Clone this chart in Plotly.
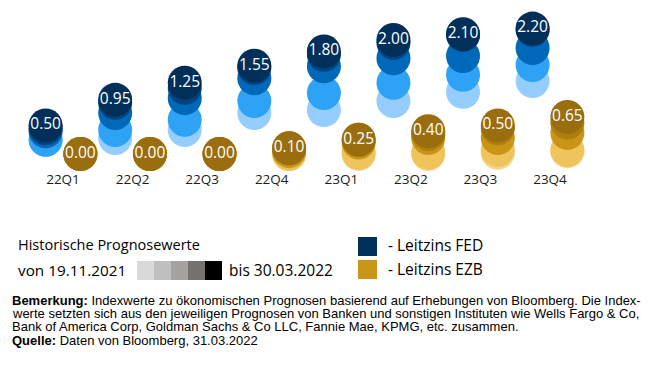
import plotly.graph_objects as go

quarters = ["22Q1", "22Q2", "22Q3", "22Q4", "23Q1", "23Q2", "23Q3", "23Q4"]

# FED forecasts per snapshot (1 = 19.11.2021 ... 5 = 30.03.2022)
fed_snap_1 = [0.25, 0.28, 0.42, 0.72, 0.77, 0.93, 1.09, 1.28]
fed_snap_2 = [0.25, 0.42, 0.60, 0.93, 1.07, 1.25, 1.39, 1.56]
fed_snap_3 = [0.40, 0.72, 0.98, 1.33, 1.54, 1.68, 1.72, 1.86]
fed_snap_4 = [0.45, 0.90, 1.16, 1.51, 1.74, 1.95, 2.09, 2.18]
fed_snap_5 = [0.50, 0.95, 1.25, 1.55, 1.80, 2.00, 2.10, 2.20]

# EZB forecasts per snapshot
ezb_snap_1 = [0.00, 0.00, 0.00, 0.00, 0.00, 0.00, 0.02, 0.05]
ezb_snap_2 = [0.00, 0.00, 0.00, 0.00, 0.02, 0.02, 0.07, 0.07]
ezb_snap_3 = [0.00, 0.00, 0.00, 0.05, 0.20, 0.28, 0.28, 0.37]
ezb_snap_4 = [0.00, 0.00, 0.00, 0.10, 0.25, 0.35, 0.45, 0.55]
ezb_snap_5 = [0.00, 0.00, 0.00, 0.10, 0.25, 0.40, 0.50, 0.65]

fed_colors = ["#96CDFF", "#2EA2F5", "#0068B8", "#00447F", "#00305A"]
ezb_colors = ["#F5D794", "#F0C45C", "#C99517", "#AE7E10", "#9A6E0E"]
grey_colors = ["#D9D9D9", "#BFBFBF", "#A6A2A2", "#767171", "#000000"]

fed_snaps = [fed_snap_1, fed_snap_2, fed_snap_3, fed_snap_4, fed_snap_5]
ezb_snaps = [ezb_snap_1, ezb_snap_2, ezb_snap_3, ezb_snap_4, ezb_snap_5]

FONT = "Open Sans, DejaVu Sans, sans-serif"
NOTE_FONT = "Liberation Sans Narrow, Arial Narrow, Liberation Sans, sans-serif"

xi = list(range(len(quarters)))
fed_x = [i - 0.25 for i in xi]
ezb_x = [i + 0.25 for i in xi]

fig = go.Figure()
for k in range(5):
    last = k == 4
    for xs, vals, col in ((fed_x, fed_snaps[k], fed_colors[k]), (ezb_x, ezb_snaps[k], ezb_colors[k])):
        fig.add_trace(go.Scatter(
            x=xs, y=vals,
            mode="markers+text" if last else "markers",
            marker=dict(size=34, color=col, line=dict(width=0), opacity=1),
            text=[f"{v:.2f}" for v in vals] if last else None,
            textposition="middle center",
            textfont=dict(family=FONT, size=15.5, color="white"),
            cliponaxis=False, showlegend=False, hoverinfo="skip",
        ))

# page body has an 8px margin; figure coordinates = reference coordinates - 8
OFF = 8.0
W = 670.0 - OFF
H = 371.0 - OFF
PH = 161.0  # plot-area height (top margin 0)


def py(p):
    return (PH - (p - OFF)) / PH


def px(p):
    return (p - OFF) / W


shapes = []
for j, c in enumerate(grey_colors):
    shapes.append(dict(type="rect", xref="paper", yref="paper",
                       x0=px(137 + 17 * j), x1=px(137 + 17 * (j + 1)),
                       y0=py(280), y1=py(261), fillcolor=c, line=dict(width=0)))
shapes.append(dict(type="rect", xref="paper", yref="paper", x0=px(358), x1=px(377),
                   y0=py(256), y1=py(237), fillcolor="#00305A", line=dict(width=0)))
shapes.append(dict(type="rect", xref="paper", yref="paper", x0=px(358), x1=px(377),
                   y0=py(279), y1=py(260), fillcolor="#C9961A", line=dict(width=0)))


def ann(text, x, y, size=14, family=FONT):
    return dict(text=text, xref="paper", yref="paper", x=px(x), y=py(y),
                xanchor="left", yanchor="middle", showarrow=False,
                font=dict(family=family, size=size, color="#000000"))


notes = [
    "<b>Bemerkung:</b> Indexwerte zu ökonomischen Prognosen basierend auf Erhebungen von Bloomberg. Die Index-",
    "werte setzten sich aus den jeweiligen Prognosen von Banken und sonstigen Instituten wie Wells Fargo &amp; Co,",
    "Bank of America Corp, Goldman Sachs &amp; Co LLC, Fannie Mae, KPMG, etc. zusammen.",
    "<b>Quelle:</b> Daten von Bloomberg, 31.03.2022",
]
note_y = [300, 313, 326, 340]

annotations = [
    ann("Historische Prognosewerte", 16, 244, 14.5),
    ann("von 19.11.2021", 16, 270, 15.3),
    ann("bis 30.03.2022", 227, 270, 15.5),
    ann("- Leitzins FED", 386, 245, 15.5),
    ann("- Leitzins EZB", 386, 269, 15.5),
]
for t, y in zip(notes, note_y):
    annotations.append(ann(t, 10, y, size=13, family=NOTE_FONT))

fig.update_layout(
    width=int(W), height=int(H),
    margin=dict(l=0, r=0, t=0, b=int(H - PH), pad=0),
    paper_bgcolor="white", plot_bgcolor="white",
    xaxis=dict(range=[-0.7906, 8.725], tickvals=xi, ticktext=quarters,
               showgrid=False, zeroline=False, showline=False, ticks="",
               tickfont=dict(family=FONT, size=13.5, color="#1a1a1a"), fixedrange=True),
    yaxis=dict(range=[(146 - PH) / 57.0, 146 / 57.0], visible=False, fixedrange=True),
    shapes=shapes, annotations=annotations, showlegend=False,
)

fig.write_html("out.html")
